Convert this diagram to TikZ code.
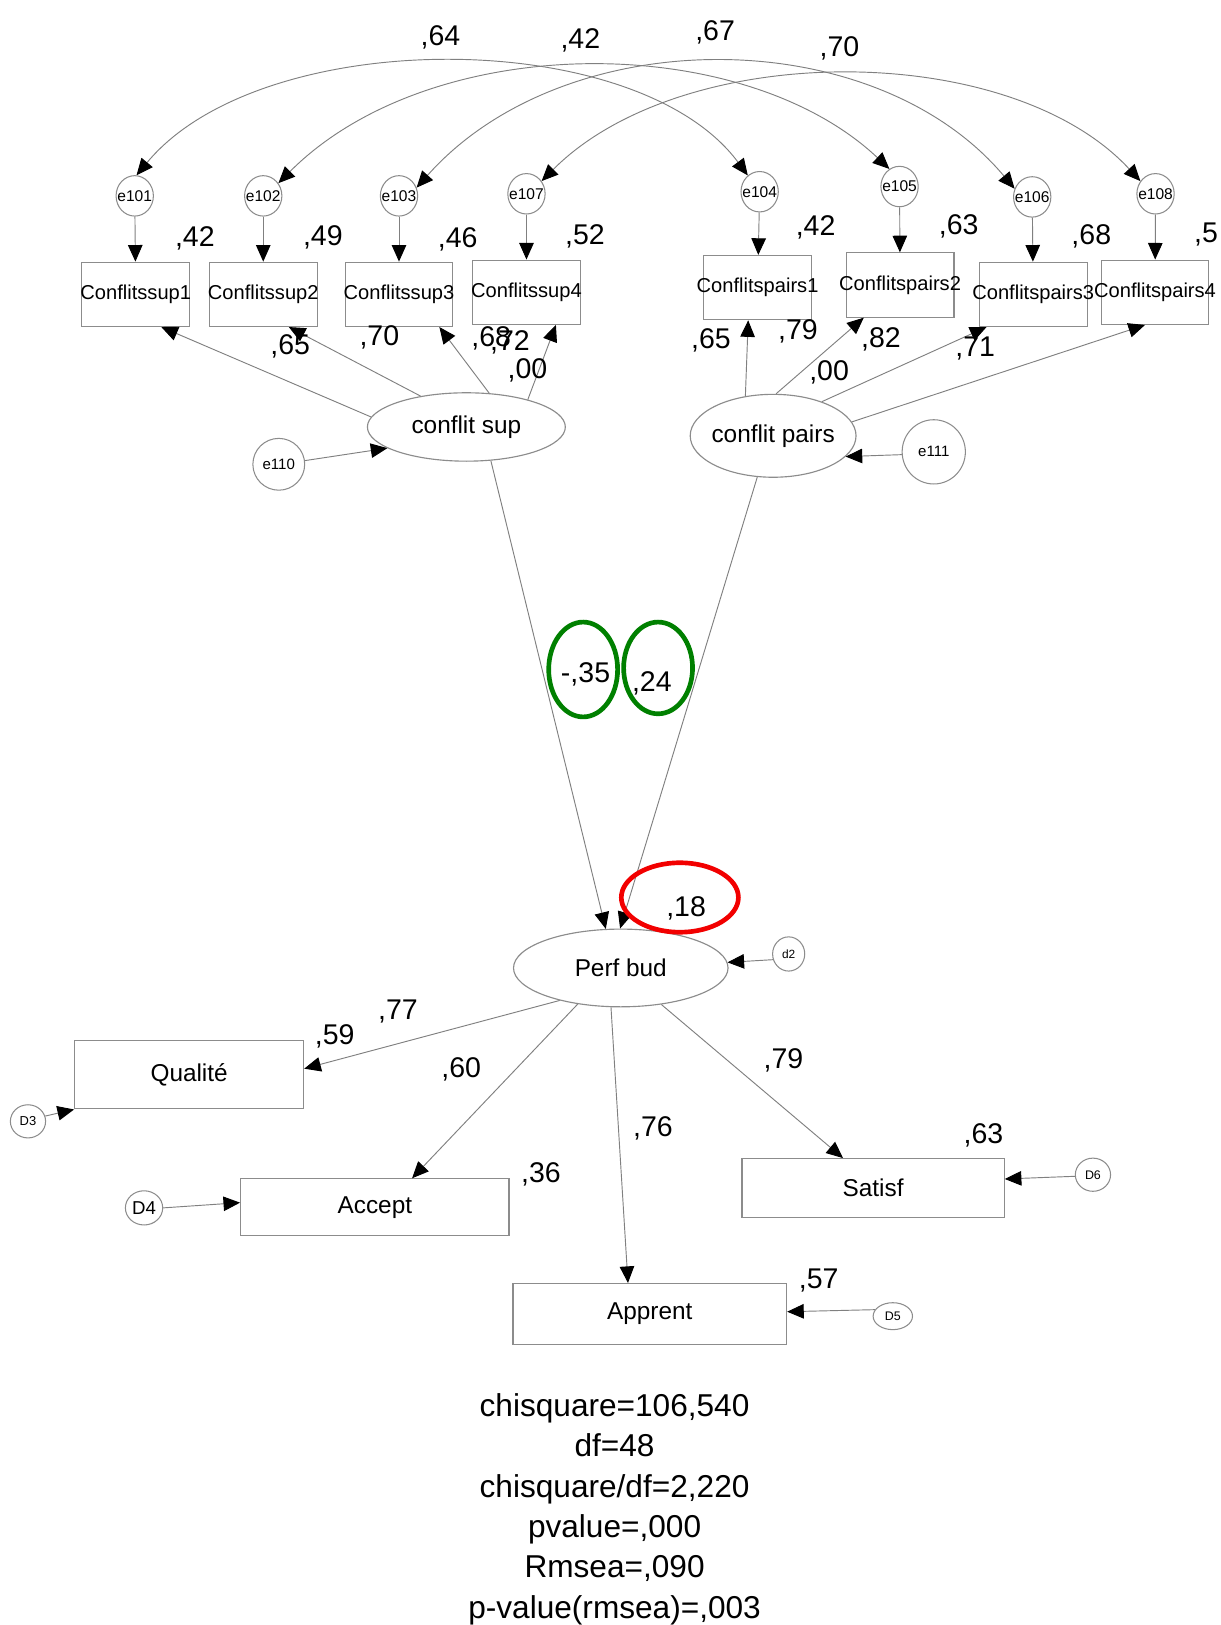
\documentclass[tikz,border=0pt]{standalone}
\usepackage{fontspec}
\setmainfont{Liberation Sans}
\usetikzlibrary{arrows.meta,shapes.geometric}
\definecolor{boxgray}{gray}{0.55}
\definecolor{linegray}{gray}{0.5}
\definecolor{darkgreen}{rgb}{0.0, 0.5, 0.0}
\definecolor{markred}{rgb}{0.95, 0.0, 0.0}
\newcommand{\fixw}[1]{\makebox[0pt]{#1}}
\newcommand{\fsz}[1]{\fontsize{#1}{#1}\selectfont}

\begin{document}
\begin{tikzpicture}[x=1pt,y=-1pt,
  >={Triangle[length=16pt,width=14pt,color=black]},
  obsbox/.style={draw=boxgray,line width=1.1pt,rectangle,inner sep=0pt,
    minimum width=104pt,minimum height=62pt,font=\fsz{19.4}},
  outbox/.style={draw=boxgray,line width=1.1pt,rectangle,inner sep=0pt,font=\fsz{23.5}},
  latent/.style={draw=boxgray,line width=1.1pt,ellipse,inner sep=0pt,font=\fsz{23.5}},
  errnode/.style={draw=boxgray,line width=1pt,ellipse,inner sep=0pt,
    minimum width=36pt,minimum height=39pt,font=\fsz{15}},
  link/.style={draw=linegray,line width=0.9pt,->},
  cov/.style={draw=linegray,line width=0.9pt,<->},
  coef/.style={font=\fsz{27.5},inner sep=0pt,anchor=base},
  statline/.style={font=\fsz{30.5},inner sep=0pt,anchor=base},
  hilite/.style={draw=#1,line width=4.5pt,ellipse,inner sep=0pt}]
  \useasboundingbox[fill=white] (0,0) rectangle (1178,1568);

  % error terms of the indicators
  \foreach \name/\x/\y in {e101/130/189,e102/254/189,e103/385/189,e107/508/187,
      e104/733/185,e105/868/180,e106/996/190,e108/1115/187}
    \node[errnode] (\name) at (\x,\y) {\fixw{\name}};

  % indicators
  \foreach \name/\txt/\x/\y in {cs1/Conflitssup1/131/284,cs2/Conflitssup2/254/284,
      cs3/Conflitssup3/385/284,cs4/Conflitssup4/508/282,
      cp1/Conflitspairs1/731/277.5,cp2/Conflitspairs2/868.5/275,
      cp3/Conflitspairs3/997/284,cp4/Conflitspairs4/1114.5/282}
    \node[obsbox] (\name) at (\x,\y) {\fixw{\txt}};

  % latent variables
  \node[latent,minimum width=191pt,minimum height=66pt] (csup) at (450,412) {\fixw{conflit sup}};
  \node[latent,minimum width=160pt,minimum height=80pt] (cpairs) at (746,420.5) {\fixw{conflit pairs}};
  \node[latent,minimum width=207pt,minimum height=75pt] (perf) at (599,934) {\fixw{Perf bud}};
  \node[errnode,minimum width=50pt,minimum height=50pt,font=\fsz{14.5}] (e110) at (269,448) {\fixw{e110}};
  \node[errnode,minimum width=61pt,minimum height=62pt,font=\fsz{14.5}] (e111) at (901,436) {\fixw{e111}};
  \node[errnode,minimum width=31pt,minimum height=33pt,font=\fsz{11.5}] (d2) at (761,920.5) {\fixw{d2}};

  % outcomes
  \node[outbox,minimum width=221pt,minimum height=66pt] (qual) at (182.5,1037) {\fixw{Qualité}};
  \node[outbox,minimum width=259pt,minimum height=55pt] (acc) at (361.7,1165) {\fixw{Accept}};
  \node[outbox,minimum width=253pt,minimum height=57pt] (sat) at (842.5,1146.5) {\fixw{Satisf}};
  \node[outbox,minimum width=264pt,minimum height=59pt] (appr) at (627,1268) {\fixw{Apprent}};
  \node[errnode,minimum width=34pt,minimum height=32pt,font=\fsz{12.5}] (D3) at (27,1082) {\fixw{D3}};
  \node[errnode,minimum width=36pt,minimum height=33pt,font=\fsz{18}] (D4) at (139,1165.5) {\fixw{D4}};
  \node[errnode,minimum width=34pt,minimum height=32pt,font=\fsz{12}] (D6) at (1054.6,1133.5) {\fixw{D6}};
  \node[errnode,minimum width=38pt,minimum height=26pt,font=\fsz{12}] (D5) at (861.5,1270) {\fixw{D5}};

  % covariances
  \draw[cov] (e101.85) .. controls (252,24) and (614,24) .. (e104.126);
  \draw[cov] (e102.40) .. controls (416,29) and (716,29) .. (e105.120);
  \draw[cov] (e103.25) .. controls (545,20) and (843,20) .. (e106.155);
  \draw[cov] (e107.40) .. controls (659,38) and (974,38) .. (e108.140);

  % measurement paths
  \foreach \e/\b in {e101/cs1,e102/cs2,e103/cs3,e107/cs4,e104/cp1,e105/cp2,e106/cp3,e108/cp4}
    \draw[link] (\e) -- (\b);
  \draw[link] (csup.174) -- (cs1.-52);
  \draw[link] (csup.146) -- (cs2.-52);
  \draw[link] (csup.56) -- (cs3.-39);
  \draw[link] (csup.24) -- (cs4.-48);
  \draw[link] (cpairs.125) -- (cp1.-106);
  \draw[link] (cpairs.86) -- (cp2.-138);
  \draw[link] (cpairs.35) -- (cp3.-145);
  \draw[link] (cpairs.10) -- (cp4.-107);
  \draw[link] (e110.8) -- (csup.195);
  \draw[link] (e111.185) -- (cpairs.-16);

  % structural paths
  \draw[link] (csup.-54) -- (perf.111);
  \draw[link] (cpairs.-111) -- (perf.91);
  \draw[link] (d2.200) -- (perf.3);
  \draw[link] (perf.208) -- (qual.3);
  \draw[link] (perf.220) -- (acc.38);
  \draw[link] (perf.256) -- (appr.125);
  \draw[link] (perf.-42) -- (sat.135);
  \draw[link] (D3.17) -- (qual.south west);
  \draw[link] (D4.east) -- (acc.178);
  \draw[link] (D6.185) -- (sat.4);
  \draw[link] (D5.160) -- (appr.1);

  % estimates
  \foreach \v/\x/\y [count=\i] in {{,64}/425/44,{,42}/560/47,{,67}/690/39,{,70}/810/55,
      {,42}/188/238,{,49}/311.5/237,{,46}/441.6/238.5,{,52}/564.5/235.5,
      {,42}/787/227,{,63}/925/226,{,68}/1053/235.5,
      {,65}/280/342,{,70}/366/333,{,68}/474/334.6,{,72}/492/337.8,{,00}/509/365,
      {,65}/686/336,{,79}/770/328,{,82}/850/335,{,00}/800/366.8,{,71}/941/344,
      {-,35}/565/659,{,24}/629/667,{,18}/662/884,
      {,77}/384/984,{,59}/323/1008,{,60}/445/1040,{,36}/522/1141,
      {,79}/756/1030.6,{,76}/630/1096.5,{,63}/949/1103,{,57}/790/1243}
    \node[coef] (est\i) at (\x,\y) {\v};
  \node[coef,anchor=base west] (estcut) at (1152,234) {,5};

  % highlights
  \node[hilite=darkgreen,minimum width=66.5pt,minimum height=91.5pt] (ring35) at (562.7,646) {};
  \node[hilite=darkgreen,minimum width=66.5pt,minimum height=88.5pt] (ring24) at (635,644.5) {};
  \node[hilite=markred,minimum width=113pt,minimum height=67pt] (ring18) at (656,866) {};

  % fit indices
  \foreach \s [count=\i from 0] in {{chisquare=106,540},{df=48},{chisquare/df=2,220},
      {pvalue=,000},{Rmsea=,090},{p-value(rmsea)=,003}}
    \node[statline] (fit\i) at (593,1366.8+38.9*\i) {\s};
\end{tikzpicture}
\end{document}
